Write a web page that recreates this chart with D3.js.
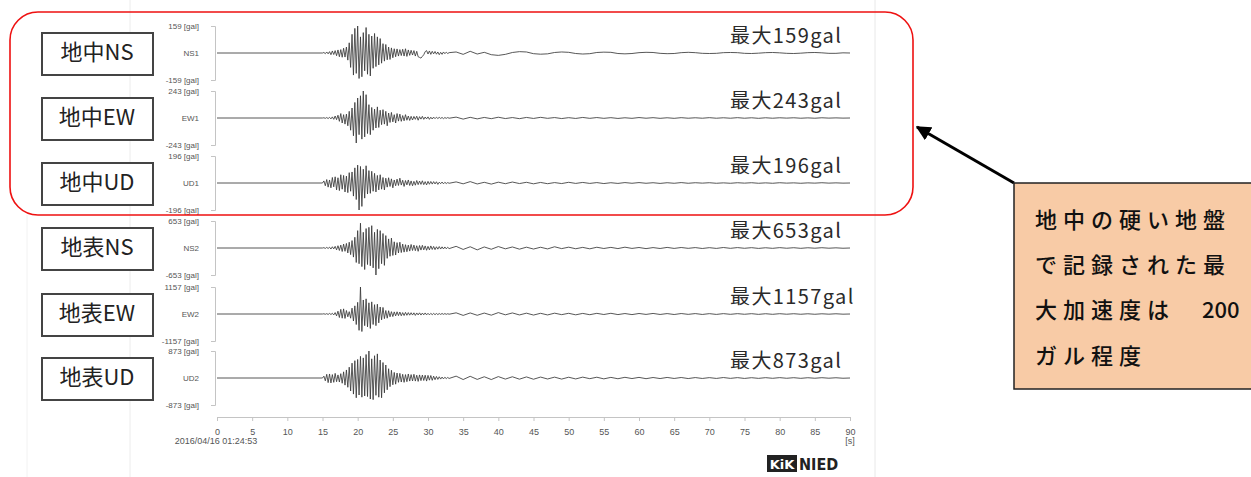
<!DOCTYPE html>
<html>
<head>
<meta charset="utf-8">
<script src="https://cdn.jsdelivr.net/npm/d3@7"></script>
<style>
  html, body { margin: 0; padding: 0; background: #fff; }
  svg { display: block; font-family: "Noto Sans CJK JP", "Noto Sans", sans-serif; }
</style>
</head>
<body>
<div id="chart"></div>
<script>
// channel names, labels and peak values (gal)
const channels = ["NS1", "EW1", "UD1", "NS2", "EW2", "UD2"];
const boxLabels = ["地中NS", "地中EW", "地中UD", "地表NS", "地表EW", "地表UD"];
const peaks = [159, 243, 196, 653, 1157, 873];
const xTicks = [0, 5, 10, 15, 20, 25, 30, 35, 40, 45, 50, 55, 60, 65, 70, 75, 80, 85, 90];
const startTime = "2016/04/16 01:24:53";
const noteLines = ["地中の硬い地盤", "で記録された最", "大加速度は", "ガル程度"];
const noteValue = "200";

// main part: samples every 0.2 s from 15.0 s to 33.0 s
const ns1Main = [0,3,-4,6,-5,8,-10,12,-9,14,
  -16,18,-22,20,-25,28,-24,35,-42,60,
  -85,110,-130,145,-120,159,-150,95,-140,120,
  -105,150,-125,110,-135,100,-90,115,-80,95,
  -70,85,-60,55,-48,50,-40,35,-38,30,
  -28,25,-22,24,-18,20,-15,22,-18,25,
  -20,18,-14,16,-12,14,-18,10,-22,-26,
  -30,-20,-10,8,14,-6,12,-8,10,-5,
  9,-7,6,-10,4,-8,6,-4,5,-3,
  2];
const ew1Main = [0,2,-3,4,-5,6,-8,10,-12,18,
  -15,25,-30,40,-45,30,-55,35,-70,60,
  -110,90,-160,140,-225,180,-150,200,-190,243,
  -170,210,-140,120,-150,95,-110,80,-90,100,
  -85,70,-60,75,-55,60,-70,45,-40,50,
  -35,30,-45,40,-28,35,-30,22,-25,30,
  -20,18,-22,15,-18,14,-12,16,-20,12,
  -10,15,-12,9,-8,10,-12,7,-9,8,
  -6,7,-5,6,-4,5,-6,4,-3,4,
  -2];
const ud1Main = [0,15,-20,25,-30,22,-35,40,-28,45,
  -50,38,-55,60,-45,55,-65,50,-70,75,
  -60,80,-95,110,-120,130,-196,120,-170,100,
  -110,125,-80,90,-75,85,-60,70,-65,55,
  -50,60,-45,40,-50,35,-30,38,-25,30,
  -35,22,-20,28,-18,35,-15,20,-25,18,
  -14,22,-18,15,-20,12,-16,18,-12,14,
  -10,16,-12,10,-14,12,-9,11,-8,10,
  -7,9,-10,6,-5,7,-6,5,-4,3,
  -2];
const ns2Main = [0,8,-10,15,-12,20,-25,30,-22,40,
  -45,55,-60,70,-85,95,-80,110,-120,140,
  -160,180,-220,260,-350,420,-380,600,-450,380,
  -520,470,-400,500,-430,540,-480,380,-653,450,
  -500,420,-380,350,-420,300,-250,220,-200,240,
  -180,150,-170,130,-120,140,-110,95,-100,80,
  -90,70,-75,85,-60,70,-65,55,-80,60,
  -50,65,-45,50,-55,40,-45,50,-35,38,
  -40,30,-28,35,-25,28,-22,25,-20,18,
  -15];
const ew2Main = [0,10,-12,15,-20,25,-22,30,-40,60,
  -80,120,-150,200,-180,220,-190,150,-120,100,
  -180,250,-300,350,-450,500,-700,1157,-750,600,
  -500,650,-550,480,-620,520,-450,400,-500,420,
  -380,300,-250,280,-200,150,-180,140,-120,100,
  -110,90,-80,95,-70,85,-75,60,-65,70,
  -55,60,-50,55,-45,50,-60,45,-40,50,
  -45,40,-35,45,-38,30,-35,28,-30,25,
  -28,22,-25,20,-18,22,-15,18,-14,12,
  -10];
const ud2Main = [0,60,-90,120,-150,130,-160,110,-140,150,
  -120,100,-130,140,-170,200,-230,260,-300,350,
  -420,480,-520,560,-640,600,-550,700,-620,650,
  -580,760,-600,873,-680,620,-700,720,-560,780,
  -620,580,-640,500,-480,420,-380,300,-280,250,
  -220,180,-200,160,-140,150,-130,120,-140,110,
  -120,130,-100,110,-95,120,-100,90,-110,100,
  -85,95,-80,90,-100,85,-70,80,-75,60,
  -55,50,-45,40,-35,30,-28,25,-20,18,
  -15];

// coda: samples every 1 s from 34 s to 90 s
const ns1Tail = [6,-8,10,-6,4,-10,-14,-8,3,8, 6,-4,-7,-5,3,6,4,-3,-6,-4,
  3,5,4,-3,-5,-3,2,4,3,-2, -4,-3,2,4,2,-2,-3,-2,2,3, 2,-2,-3,-1,2,3,1,-2,-3,-1, 2,3,1,-2,-2,1,0];
const ew1Tail = [8,-10,6,-8,5,-6,7,-5,4,-6, 5,-4,6,-3,4,-5,3,-4,5,-3,
  4,-3,3,-4,2,-3,4,-2,3,-3, 2,-3,3,-2,2,-2,3,-2,2,-2, 3,-2,2,-3,2,-2,2,-1,2,-2, 1,-2,2,-1,1,-1,0];
const ud1Tail = [8,-6,10,-7,5,-8,6,-5,7,-4, 5,-6,4,-5,3,-4,5,-3,4,-3,
  3,-4,2,-3,3,-2,3,-2,2,-3, 2,-2,3,-2,2,-1,2,-2,1,-2, 2,-1,2,-2,1,-2,2,-1,1,-2, 1,-1,2,-1,1,-1,0];
const ns2Tail = [40,-35,30,-45,25,-30,35,-20,25,-28, 20,-25,18,-22,30,-15,20,-18,15,-20,
  18,-12,15,-14,20,-10,12,-15,10,-12, 14,-10,12,-8,10,-12,8,-10,12,-8, 10,-7,8,-10,6,-8,9,-6,7,-8, 6,-5,7,-5,4,-6,0];
const ew2Tail = [50,-60,45,-55,40,-50,60,-35,45,-40, 35,-45,30,-40,35,-28,30,-35,25,-30,
  28,-22,30,-25,20,-26,22,-18,24,-20, 18,-22,20,-15,18,-20,15,-18,16,-14, 15,-12,14,-16,12,-14,13,-10,12,-11, 10,-12,9,-8,10,-8,0];
const ud2Tail = [60,-50,55,-45,40,-50,45,-35,40,-38, 35,-40,30,-32,28,-35,25,-30,28,-22,
  25,-28,20,-24,22,-18,20,-22,16,-18, 18,-15,16,-18,14,-15,12,-14,15,-12, 12,-14,10,-12,11,-10,12,-9,10,-11, 9,-8,10,-7,8,-8,0];

const mains = [ns1Main, ew1Main, ud1Main, ns2Main, ew2Main, ud2Main];
const tails = [ns1Tail, ew1Tail, ud1Tail, ns2Tail, ew2Tail, ud2Tail];

const width = 1251, height = 477;
const baselines = [53, 118, 183, 248, 314, 378];
const halfH = 27;

const svg = d3.select("#chart").append("svg")
  .attr("width", width).attr("height", height);

// faint frame of the original screenshot
svg.append("line").attr("x1", 130).attr("x2", 130).attr("y1", 0).attr("y2", height)
  .attr("stroke", "#ececec");
svg.append("line").attr("x1", 875).attr("x2", 875).attr("y1", 0).attr("y2", height)
  .attr("stroke", "#e8e8e8");
svg.append("line").attr("x1", 27).attr("x2", 27).attr("y1", 215).attr("y2", height)
  .attr("stroke", "#f2f2f2");

const x = d3.scaleLinear().domain([0, 90]).range([217, 850]);

const line = d3.line().x(d => x(d[0])).y(d => d[1]);

channels.forEach((ch, i) => {
  const b = baselines[i];
  const y = d3.scaleLinear().domain([-peaks[i], peaks[i]]).range([b + halfH, b - halfH]);

  // left bracket axis
  const ax = svg.append("g").attr("transform", "translate(215,0)")
    .call(d3.axisLeft(y).tickValues([-peaks[i], 0, peaks[i]])
      .tickSize(4).tickPadding(12)
      .tickFormat(v => v === 0 ? ch : v + " [gal]"));
  ax.select(".domain").attr("stroke", "#c4c4c4");
  ax.selectAll(".tick line").attr("stroke", "#c4c4c4")
    .filter(v => v === 0).remove();
  ax.selectAll(".tick text").attr("fill", "#555")
    .style("font-size", "8px").style("font-family", "Arial, 'Liberation Sans', sans-serif");

  // waveform
  const pts = [[0, y(0)]];
  mains[i].forEach((v, k) => pts.push([15 + k * 0.2, y(v)]));
  tails[i].forEach((v, k) => pts.push([34 + k, y(v)]));
  svg.append("path").datum(pts)
    .attr("d", line)
    .attr("fill", "none")
    .attr("stroke", "#3a3a3a")
    .attr("stroke-width", 1)
    .attr("stroke-opacity", 0.85)
    .attr("stroke-linejoin", "round");

  // peak label
  svg.append("text")
    .attr("x", 730).attr("y", b - 15)
    .attr("dominant-baseline", "middle")
    .attr("fill", "#2a2a2a")
    .style("font-size", "20px")
    .style("letter-spacing", "1.4px")
    .text("最大" + peaks[i] + "gal");

  // component box
  svg.append("rect")
    .attr("x", 42).attr("y", b - 20)
    .attr("width", 111).attr("height", 42)
    .attr("fill", "#fff").attr("stroke", "#444").attr("stroke-width", 2);
  svg.append("text")
    .attr("x", 97).attr("y", b + 1)
    .attr("text-anchor", "middle").attr("dominant-baseline", "middle")
    .attr("fill", "#222")
    .style("font-size", "22px")
    .text(boxLabels[i]);
});

// time axis
const xa = svg.append("g").attr("transform", "translate(0,417)")
  .call(d3.axisBottom(x).tickValues(xTicks).tickSize(4).tickPadding(8));
xa.select(".domain").attr("stroke", "#c4c4c4");
xa.selectAll(".tick line").attr("stroke", "#c4c4c4");
xa.selectAll(".tick text").attr("fill", "#555")
  .style("font-size", "9px").style("font-family", "Arial, 'Liberation Sans', sans-serif");

svg.append("text").attr("x", 216).attr("y", 444).attr("text-anchor", "middle")
  .attr("fill", "#555").style("font-size", "9px")
  .style("font-family", "Arial, 'Liberation Sans', sans-serif")
  .text(startTime);
svg.append("text").attr("x", x(90)).attr("y", 444).attr("text-anchor", "middle")
  .attr("fill", "#555").style("font-size", "9px")
  .style("font-family", "Arial, 'Liberation Sans', sans-serif")
  .text("[s]");

// NIED logo
svg.append("rect").attr("x", 767).attr("y", 455).attr("width", 30).attr("height", 17)
  .attr("fill", "#222");
svg.append("text").attr("x", 782).attr("y", 469).attr("text-anchor", "middle")
  .attr("fill", "#fff").style("font-size", "13px").style("font-weight", "bold")
  .style("font-family", "'DejaVu Sans', sans-serif").text("KiK");
svg.append("text").attr("x", 799).attr("y", 470)
  .attr("fill", "#222").style("font-size", "16px").style("font-weight", "bold")
  .style("font-family", "'DejaVu Sans Condensed', 'DejaVu Sans', sans-serif").text("NIED");

// red highlight around the borehole traces
svg.append("rect")
  .attr("x", 10).attr("y", 12).attr("width", 903).attr("height", 203)
  .attr("rx", 28).attr("ry", 28)
  .attr("fill", "none").attr("stroke", "#ee1111").attr("stroke-width", 1.6);

// callout
svg.append("defs").append("marker")
  .attr("id", "arrow").attr("viewBox", "0 0 10 10")
  .attr("refX", 9).attr("refY", 5)
  .attr("markerWidth", 5).attr("markerHeight", 5)
  .attr("orient", "auto")
  .append("path").attr("d", "M0,0 L10,5 L0,10 z").attr("fill", "#000");

svg.append("line")
  .attr("x1", 1014).attr("y1", 183).attr("x2", 917).attr("y2", 127)
  .attr("stroke", "#000").attr("stroke-width", 3)
  .attr("marker-end", "url(#arrow)");

svg.append("rect")
  .attr("x", 1014).attr("y", 183).attr("width", 245).attr("height", 206)
  .attr("fill", "#f8cba6").attr("stroke", "#222").attr("stroke-width", 1.5);

const noteY = [222, 267, 312, 358];
noteLines.forEach((t, k) => {
  const tx = svg.append("text")
    .attr("x", 1035).attr("y", noteY[k])
    .attr("dominant-baseline", "middle")
    .attr("fill", "#111")
    .style("font-size", "22px")
    .style("font-weight", "500");
  tx.append("tspan").style("letter-spacing", "6px").text(t);
  if (k === 2) tx.append("tspan").attr("x", 1202).text(noteValue);
});
</script>
</body>
</html>
